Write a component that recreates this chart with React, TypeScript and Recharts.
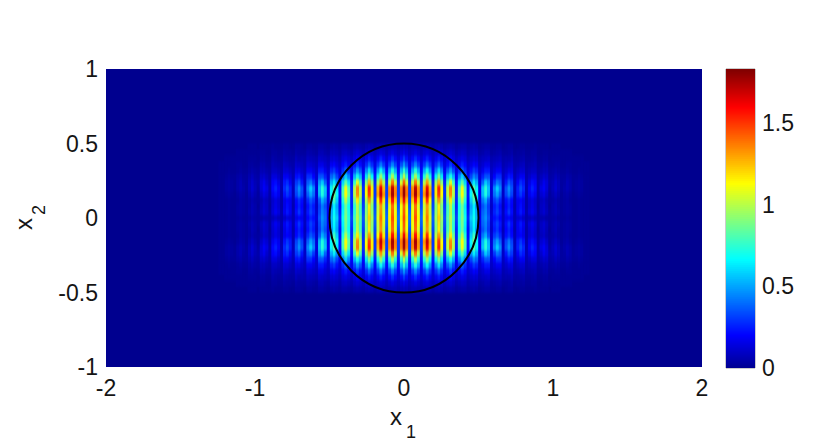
import React from "react";
import { ScatterChart, Scatter, XAxis, YAxis, ReferenceArea, ReferenceDot, ReferenceLine } from "recharts";

const FONT = "'Liberation Sans', Arial, sans-serif";
const xTicks = [-2, -1, 0, 1, 2];
const yTicks = [-1, -0.5, 0, 0.5, 1];
const barTicks = [0, 0.5, 1, 1.5];
const colorMax = 1.83;
const columnStep = 0.0196;
const rowStep = 0.04;

// One quadrant of the field. Each row is one x2 level (0, .04, .08 ...),
// each column one x1 step to the right of the centre.
const row00 = [1.48,1.17,.42,1.15, 1.46,1.15,.4,1.1, 1.38,1.08,.38,.98, 1.22,.96,.36,.83, 1.0,.79,.33,.73, .9,.69,.28,.58, .7,.54,.2,.4, .47,.36,.14,.22, .26,.2,.09,.17, .2,.16,.07,.12, .14,.1,.05,.07, .1,.07,.04,.05, .06,.04,.03,.04, .05,.03,.02,.02, .03,.02,.01,.01, .02,.01,.01,.01];
const row01 = [1.44,1.13,.4,1.11, 1.42,1.11,.38,1.06, 1.34,1.04,.36,.93, 1.18,.91,.34,.79, .98,.75,.3,.71, .88,.65,.25,.53, .66,.52,.18,.38, .44,.33,.12,.26, .32,.24,.09,.22, .3,.22,.07,.18, .24,.18,.06,.14, .18,.13,.04,.09, .12,.08,.03,.05, .07,.05,.02,.03, .04,.03,.01,.01, .02,.01,.01,.01];
const row02 = [1.42,1.11,.36,1.09, 1.4,1.07,.34,1.02, 1.32,1.02,.33,.91, 1.16,.89,.31,.79, 1.0,.75,.27,.69, .86,.63,.22,.5, .64,.48,.15,.34, .42,.31,.1,.24, .3,.22,.07,.2, .26,.2,.06,.17, .22,.16,.05,.12, .16,.12,.03,.09, .11,.07,.02,.05, .07,.04,.02,.03, .04,.03,.01,.01, .02,.01,.01,.01];
const row03 = [1.62,1.25,.33,1.23, 1.58,1.21,.32,1.17, 1.52,1.14,.31,1.01, 1.32,.99,.29,.89, 1.16,.87,.27,.76, 1.0,.72,.22,.58, .78,.58,.16,.42, .52,.36,.12,.3, .36,.27,.09,.22, .28,.21,.07,.17, .2,.16,.05,.12, .15,.11,.04,.08, .1,.06,.03,.04, .06,.04,.02,.03, .04,.02,.01,.01, .02,.01,.01,.01];
const row04 = [1.78,1.39,.32,1.37, 1.76,1.35,.31,1.33, 1.7,1.31,.3,1.17, 1.5,1.13,.29,1.02, 1.34,1.0,.27,.85, 1.12,.81,.24,.66, .88,.66,.17,.54, .72,.54,.13,.4, .5,.38,.1,.32, .42,.32,.08,.24, .3,.23,.06,.17, .22,.17,.05,.12, .15,.1,.03,.06, .09,.06,.02,.04, .05,.03,.01,.02, .03,.02,.01,.01];
const row05 = [1.76,1.37,.32,1.35, 1.72,1.33,.31,1.26, 1.64,1.26,.3,1.17, 1.54,1.15,.29,1.02, 1.36,1.0,.26,.81, 1.1,.79,.23,.62, .84,.66,.18,.56, .74,.56,.14,.44, .58,.45,.11,.34, .46,.35,.09,.25, .34,.27,.07,.19, .26,.21,.06,.15, .19,.13,.04,.08, .12,.08,.03,.05, .07,.05,.02,.03, .04,.03,.01,.01];
const row06 = [1.42,1.06,.3,1.04, 1.38,1.02,.28,.99, 1.32,.97,.27,.95, 1.26,.91,.26,.81, 1.08,.78,.24,.62, .84,.6,.2,.47, .64,.52,.16,.38, .57,.48,.13,.3, .42,.37,.1,.24, .36,.3,.09,.19, .28,.24,.07,.15, .22,.19,.06,.11, .17,.13,.05,.07, .11,.08,.03,.04, .07,.05,.02,.03, .04,.03,.01,.01];
const row07 = [1.0,.76,.26,.74, .98,.74,.25,.72, .94,.7,.24,.66, .88,.63,.22,.55, .7,.53,.2,.44, .58,.42,.17,.32, .44,.38,.14,.26, .35,.35,.12,.2, .28,.28,.09,.16, .24,.22,.07,.13, .18,.18,.06,.1, .14,.14,.05,.08, .11,.1,.04,.05, .08,.06,.03,.03, .05,.04,.02,.02, .03,.02,.01,.01];
const row08 = [.74,.54,.22,.52, .72,.52,.21,.5, .68,.48,.2,.44, .62,.44,.18,.36, .48,.34,.16,.28, .38,.28,.14,.22, .3,.26,.12,.17, .24,.24,.1,.14, .18,.18,.08,.11, .15,.15,.06,.09, .12,.12,.05,.07, .09,.09,.04,.05, .07,.07,.03,.04, .05,.04,.02,.02, .03,.02,.01,.01, .02,.01,.01,.01];
const row09 = [.47,.34,.18,.32, .44,.32,.17,.3, .42,.3,.16,.28, .38,.27,.15,.22, .3,.22,.13,.18, .25,.2,.11,.15, .2,.18,.09,.12, .16,.16,.08,.1, .12,.13,.06,.08, .1,.11,.05,.06, .08,.09,.04,.05, .06,.07,.03,.03, .05,.05,.02,.02, .03,.03,.01,.01, .02,.02,.01,.01, .01,.01,.01,.01];
const row10 = [.3,.22,.14,.21, .28,.21,.13,.2, .26,.19,.12,.18, .24,.18,.11,.16, .2,.15,.1,.13, .16,.14,.08,.11, .13,.12,.07,.09, .1,.11,.06,.07, .08,.09,.05,.06, .06,.08,.04,.04, .05,.06,.03,.03, .04,.05,.02,.02, .03,.03,.01,.02, .02,.02,.01,.01, .01,.01,.01,.01, .01,.01,0,0];
const row11 = [.16,.13,.09,.12, .15,.12,.08,.12, .14,.11,.08,.11, .13,.11,.07,.1, .12,.1,.06,.08, .1,.09,.05,.07, .08,.08,.04,.05, .07,.07,.03,.04, .05,.06,.03,.03, .04,.05,.02,.03, .03,.04,.02,.02, .03,.03,.01,.01, .02,.02,.01,.01, .01,.01,.01,.01, .01,.01,0,0, 0,0,0,0];
const row12 = [.08,.07,.05,.07, .07,.06,.05,.06, .07,.06,.04,.06, .07,.06,.04,.05, .06,.05,.03,.04, .05,.05,.03,.04, .05,.04,.02,.03, .04,.04,.02,.02, .03,.03,.01,.02, .03,.03,.01,.01, .02,.02,.01,.01, .01,.02,.01,.01, .01,.01,0,.01, .01,.01,0,0, 0,0,0,0, 0,0,0,0];
const quadrantRows = [row00, row01, row02, row03, row04, row05, row06, row07, row08, row09, row10, row11, row12];

const jet = (value: number) => {
  const t = 1 / 64 + (63 / 64) * Math.max(0, Math.min(1, value / colorMax));
  const c = (center: number) => Math.round(255 * Math.max(0, Math.min(1, 1.5 - Math.abs(4 * t - center))));
  return `rgb(${c(3)},${c(2)},${c(1)})`;
};

type Cell = { x: number; y: number; v: number };
const cells: Cell[] = [];
quadrantRows.forEach((row, r) => {
  row.forEach((v, k) => {
    if (v <= 0) return;
    const xs = k === 0 ? [0] : [k * columnStep, -k * columnStep];
    const ys = r === 0 ? [0] : [r * rowStep, -r * rowStep];
    xs.forEach((x) => ys.forEach((y) => cells.push({ x, y, v })));
  });
});

const barLevels = Array.from({ length: 150 }, (_, i) => ({ x: 0.5, y: ((i + 0.5) / 150) * colorMax, v: ((i + 0.5) / 150) * colorMax }));

const HeatCell = (props: any) => {
  const { cx, cy, payload } = props;
  return <rect x={cx - 1.65} y={cy - 3.2} width={3.3} height={6.4} fill={jet(payload.v)} />;
};
const BarCell = (props: any) => {
  const { cx, cy, payload } = props;
  return <rect x={cx - 14.5} y={cy - 1.5} width={29} height={3} fill={jet(payload.v)} />;
};

const tickStyle = { fontFamily: FONT, fontSize: 23, fill: "#151515" };
const wrap: React.CSSProperties = { position: "absolute", left: 0, top: 0 };

export default function App() {
  return (
    <div style={{ position: "absolute", left: 0, top: 0, width: 830, height: 446, background: "#fff" }}>
      <style>{`.heat-layer .recharts-scatter{filter:url(#heatSmooth)}`}</style>
      <svg width={0} height={0} style={{ position: "absolute" }}>
        <defs>
          <filter id="heatSmooth" x="-5%" y="-5%" width="110%" height="110%" colorInterpolationFilters="sRGB">
            <feGaussianBlur stdDeviation="0.55 1.6" />
          </filter>
        </defs>
      </svg>
      <div style={wrap} className="heat-layer">
        <ScatterChart width={830} height={446} margin={{ top: 69, right: 128, bottom: 0, left: 0 }}>
          <XAxis type="number" dataKey="x" domain={[-2, 2]} ticks={xTicks} height={79} axisLine={false} tickLine={false} tickSize={0} tickMargin={13} tick={tickStyle} interval={0} allowDataOverflow />
          <YAxis type="number" dataKey="y" domain={[-1, 1]} ticks={yTicks} width={106} axisLine={false} tickLine={false} tickSize={0} tickMargin={8} tick={tickStyle} interval={0} allowDataOverflow />
          <ReferenceArea x1={-2} x2={2} y1={-1} y2={1} fill="#00008f" fillOpacity={1} stroke="none" />
          <Scatter data={cells} isAnimationActive={false} shape={HeatCell} />
          <ReferenceDot x={0} y={0} r={74.5} fill="none" stroke="#000" strokeWidth={2} ifOverflow="visible" />
          <text x={390} y={425} fontFamily={FONT} fontSize={24} fill="#151515">x<tspan dx={4} dy={13} fontSize={18}>1</tspan></text>
          <text transform="translate(32,230) rotate(-90)" fontFamily={FONT} fontSize={24} fill="#151515">x<tspan dx={3} dy={13} fontSize={18}>2</tspan></text>
        </ScatterChart>
      </div>
      <div style={wrap}>
        <ScatterChart width={830} height={446} margin={{ top: 69, right: 0, bottom: 78, left: 726 }}>
          <XAxis type="number" dataKey="x" domain={[0, 1]} hide allowDataOverflow />
          <YAxis type="number" dataKey="y" orientation="right" domain={[0, colorMax]} ticks={barTicks} width={75} axisLine={false} tickLine={false} tickSize={0} tickMargin={7} tick={tickStyle} interval={0} allowDataOverflow />
          <Scatter data={barLevels} isAnimationActive={false} shape={BarCell} />
          <ReferenceArea x1={0} x2={1} y1={0} y2={colorMax} fill="none" stroke="#555" strokeWidth={0.6} />
          {barTicks.slice(1).map((t) => (
            <ReferenceLine key={`l${t}`} segment={[{ x: 0, y: t }, { x: 0.1, y: t }]} stroke="#333" strokeWidth={0.8} />
          ))}
          {barTicks.slice(1).map((t) => (
            <ReferenceLine key={`r${t}`} segment={[{ x: 0.9, y: t }, { x: 1, y: t }]} stroke="#333" strokeWidth={0.8} />
          ))}
        </ScatterChart>
      </div>
    </div>
  );
}
